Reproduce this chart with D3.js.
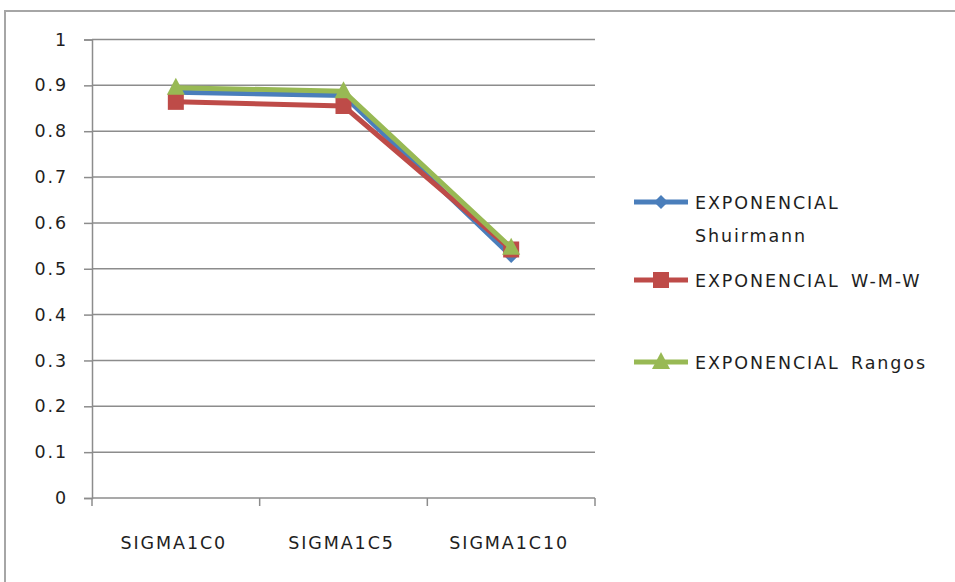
<!DOCTYPE html>
<html>
<head>
<meta charset="utf-8">
<script src="https://cdn.jsdelivr.net/npm/d3@7"></script>
<style>
  html, body { margin: 0; padding: 0; background: #fff; }
  svg { display: block; }
  text { font-family: "DejaVu Sans", Verdana, sans-serif; fill: #1e1e1e; letter-spacing: 1.9px; }
</style>
</head>
<body>
<svg id="chart" width="955" height="582"></svg>
<script>
// Categories and series
const categories = ["SIGMA1C0", "SIGMA1C5", "SIGMA1C10"];
const shuirmann = [0.885, 0.878, 0.528];
const wmw = [0.864, 0.855, 0.542];
const rangos = [0.895, 0.887, 0.546];
const yTicks = [0, 0.1, 0.2, 0.3, 0.4, 0.5, 0.6, 0.7, 0.8, 0.9, 1];
const seriesNames = [["EXPONENCIAL", "Shuirmann"], ["EXPONENCIAL W-M-W"], ["EXPONENCIAL Rangos"]];

const series = [
  { values: shuirmann, color: "#4a7ebb", marker: "diamond", name: seriesNames[0] },
  { values: wmw, color: "#be4b48", marker: "square", name: seriesNames[1] },
  { values: rangos, color: "#98b954", marker: "triangle", name: seriesNames[2] }
];

const svg = d3.select("#chart");
const plotLeft = 92, plotRight = 595, plotTop = 39.5, plotBottom = 498;
const fontSize = 17.5;

// outer chart frame
svg.append("rect").attr("x", 5).attr("y", 11).attr("width", 970).attr("height", 600)
  .attr("fill", "none").attr("stroke", "#a6a6a6").attr("stroke-width", 2);

const x = d3.scaleBand().domain(categories).range([plotLeft, plotRight]).padding(0);
const y = d3.scaleLinear().domain([0, 1]).range([plotBottom, plotTop]);

// horizontal gridlines
svg.append("g").selectAll("line").data(yTicks.slice(1)).join("line")
  .attr("x1", plotLeft).attr("x2", plotRight)
  .attr("y1", d => y(d)).attr("y2", d => y(d))
  .attr("stroke", "#8c8c8c").attr("stroke-width", 1.5);

// y axis
const yAxis = svg.append("g").attr("transform", `translate(${plotLeft},0)`)
  .call(d3.axisLeft(y).tickValues(yTicks).tickFormat(d => String(d)).tickSize(8).tickPadding(16));
yAxis.select(".domain").attr("stroke", "#8c8c8c").attr("stroke-width", 1.5);
yAxis.selectAll(".tick line").attr("stroke", "#8c8c8c").attr("stroke-width", 1.5);
yAxis.selectAll(".tick text").attr("font-size", fontSize).attr("fill", "#1e1e1e")
  .style("font-family", "'DejaVu Sans', Verdana, sans-serif");

// x axis with ticks on category boundaries
const xb = svg.append("g").attr("transform", `translate(0,${plotBottom})`);
xb.append("line").attr("x1", plotLeft).attr("x2", plotRight).attr("stroke", "#8c8c8c").attr("stroke-width", 1.5);
const bounds = categories.map(c => x(c)).concat([plotRight]);
xb.selectAll("line.tk").data(bounds).join("line").attr("class", "tk")
  .attr("x1", d => d).attr("x2", d => d).attr("y1", 0).attr("y2", 8)
  .attr("stroke", "#8c8c8c").attr("stroke-width", 1.5);
xb.selectAll("text").data(categories).join("text")
  .attr("x", d => x(d) + x.bandwidth() / 2 - 2).attr("y", 51)
  .attr("text-anchor", "middle").attr("font-size", fontSize).text(d => d);

const cx = c => x(c) + x.bandwidth() / 2;

function drawMarker(g, type, color) {
  if (type === "diamond") {
    g.append("path").attr("d", "M0,-7L7,0L0,7L-7,0Z").attr("fill", color);
  } else if (type === "square") {
    g.append("rect").attr("x", -8).attr("y", -8).attr("width", 16).attr("height", 16).attr("fill", color);
  } else {
    g.append("path").attr("d", "M0,-10L9,7L-9,7Z").attr("fill", color);
  }
}

const line = d3.line().x((d, i) => cx(categories[i])).y(d => y(d));

series.forEach(s => {
  svg.append("path").datum(s.values).attr("d", line)
    .attr("fill", "none").attr("stroke", s.color).attr("stroke-width", 5).attr("stroke-linejoin", "round");
  s.values.forEach((v, i) => {
    const g = svg.append("g").attr("transform", `translate(${cx(categories[i])},${y(v)})`);
    drawMarker(g, s.marker, s.color);
  });
});

// legend
const legendY = [202, 280, 362];
series.forEach((s, i) => {
  const g = svg.append("g").attr("transform", `translate(634,${legendY[i]})`);
  g.append("line").attr("x1", 0).attr("x2", 54).attr("stroke", s.color).attr("stroke-width", 5);
  const mg = g.append("g").attr("transform", "translate(27,0)");
  drawMarker(mg, s.marker, s.color);
  s.name.forEach((t, j) => {
    g.append("text").attr("x", 61).attr("y", 6.5 + j * 33).attr("font-size", fontSize)
      .style("word-spacing", "4px").text(t);
  });
});
</script>
</body>
</html>
